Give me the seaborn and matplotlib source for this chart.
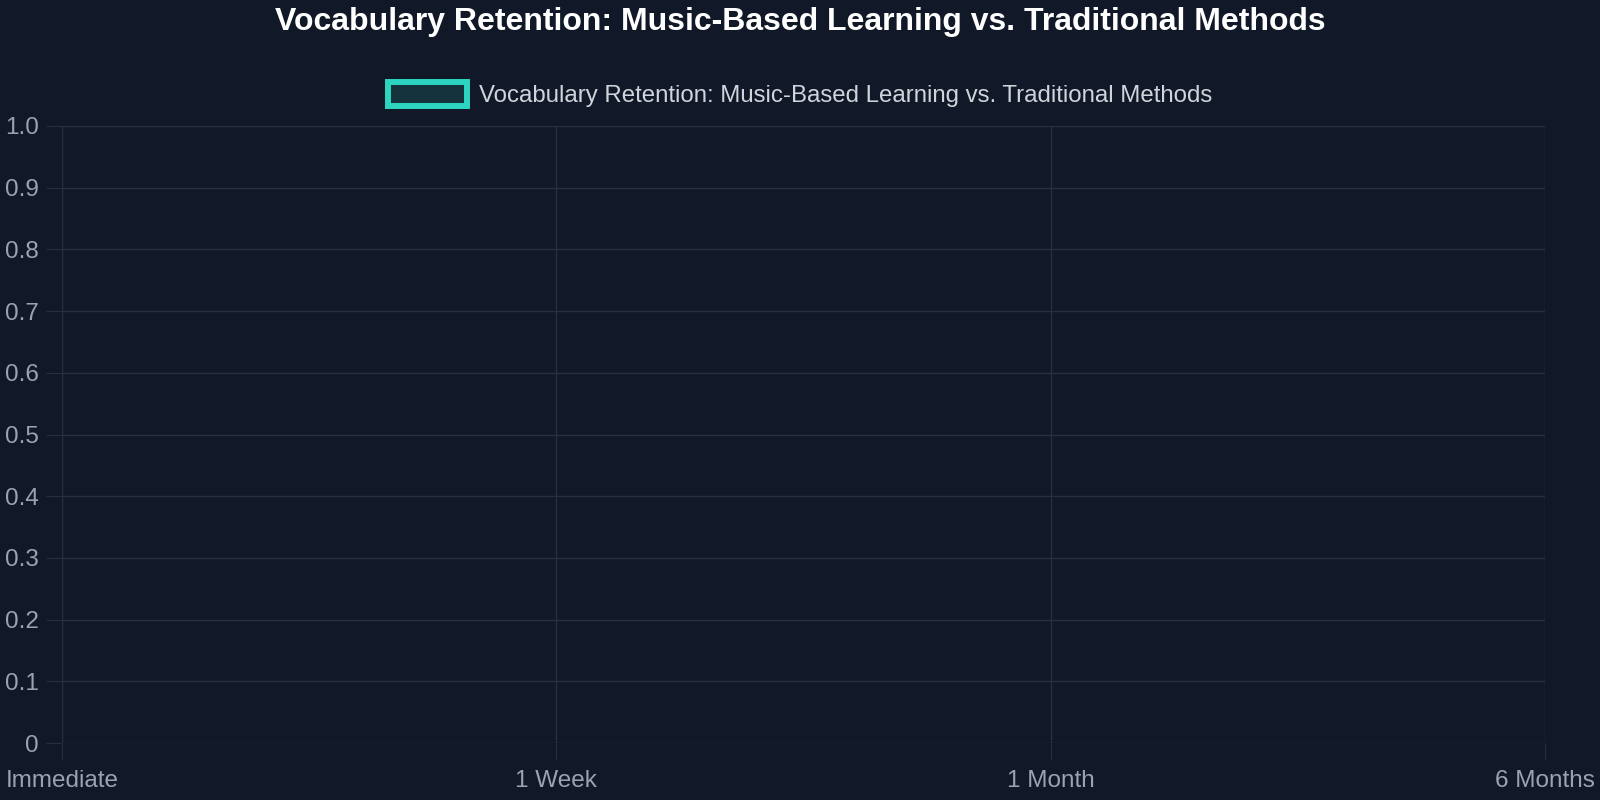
import numpy as np
import pandas as pd
import matplotlib
matplotlib.use("Agg")
import matplotlib.pyplot as plt
import seaborn as sns
from matplotlib.patches import Patch

# chart data (the reference shows no plotted points, only the empty series)
categories = ["Immediate", "1 Week", "1 Month", "6 Months"]
retention = [np.nan, np.nan, np.nan, np.nan]
series_name = "Vocabulary Retention: Music-Based Learning vs. Traditional Methods"
title = "Vocabulary Retention: Music-Based Learning vs. Traditional Methods"
y_ticks = [0, 0.1, 0.2, 0.3, 0.4, 0.5, 0.6, 0.7, 0.8, 0.9, 1.0]
y_labels = ["0", "0.1", "0.2", "0.3", "0.4", "0.5", "0.6", "0.7", "0.8", "0.9", "1.0"]

bg = "#111827"
grid_col = "#283040"
tick_col = "#9ca3af"
teal = "#2dd4bf"

sns.set_theme(style="dark")
plt.rcParams["font.family"] = ["Liberation Sans", "DejaVu Sans"]

fig = plt.figure(figsize=(16, 8), dpi=100, facecolor=bg)
ax = fig.add_axes([62 / 1600, 57 / 800, 1483 / 1600, 617 / 800])
ax.set_facecolor(bg)

df = pd.DataFrame({"x": range(len(categories)), "y": retention})
sns.lineplot(data=df, x="x", y="y", ax=ax, color=teal, linewidth=3, legend=False)

ax.set_xlim(0, len(categories) - 1)
ax.set_ylim(0, 1.0)
ax.set_xticks(range(len(categories)), labels=categories)
ax.set_yticks(y_ticks, labels=y_labels)
ax.set_xlabel("")
ax.set_ylabel("")

ax.grid(True, color=grid_col, linewidth=1.0)
for s in ax.spines.values():
    s.set_visible(False)
ax.tick_params(axis="both", colors=grid_col, labelcolor=tick_col,
               labelsize=17.5, length=11.5, width=0.8, direction="out")
ax.tick_params(axis="x", pad=8)
ax.tick_params(axis="y", pad=5)
ax.tick_params(bottom=True, left=True)

# legend box like the chart's dataset entry
handle = Patch(facecolor=(45 / 255, 212 / 255, 191 / 255, 0.15), edgecolor=teal, linewidth=4.3)
fig.legend([handle], [series_name], loc="center", bbox_to_anchor=(0.5, 0.882),
           frameon=False, fontsize=17.25, labelcolor="#d1d5db",
           handlelength=3.3, handleheight=1.15, handletextpad=0.5)

fig.text(0.5, 0.9725, title, ha="center", va="center", color="white",
         fontsize=23, fontweight="bold")

fig.savefig("out.png", dpi=100, facecolor=bg)
